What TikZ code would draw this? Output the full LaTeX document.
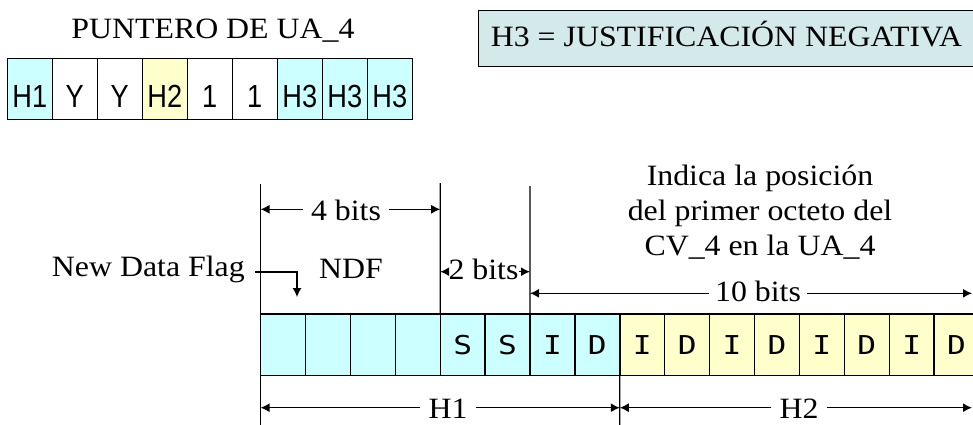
\documentclass[tikz,border=0pt]{standalone}
\usepackage{fontspec}
\setmainfont{Liberation Serif}[FakeStretch=1.08]
\newfontfamily\cellfont{Liberation Sans}[FakeStretch=0.85]
\newfontfamily\bitfont{DejaVu Sans Mono}[FakeStretch=1.2]
\usetikzlibrary{arrows.meta}
\definecolor{cyanc}{HTML}{CCFFFF}
\definecolor{yelc}{HTML}{FFFFCC}
\definecolor{hbox}{HTML}{D4E9EA}
\begin{document}
\begin{tikzpicture}[x=1pt,y=-1pt,
  txt/.style={font=\fontsize{29.5}{35}\selectfont, inner sep=0pt},
  gap/.style={txt, fill=white, inner xsep=8pt, inner ysep=0pt},
  tipa/.style={line width=1.3pt, -{Latex[length=9pt,width=9pt]}},
  vline/.style={line width=1.3pt},
  small/.style={draw, line width=1.4pt, minimum width=45pt, minimum height=61pt,
     inner sep=0pt, outer sep=0pt, font=\cellfont\fontsize{32}{32}\selectfont,
     text height=37pt, text depth=0pt},
  bcell/.style={draw, line width=1.4pt, minimum width=44.9pt, minimum height=61.3pt,
     inner sep=0pt, outer sep=0pt, font=\bitfont\fontsize{26}{26}\selectfont}
]
\useasboundingbox (0,0) rectangle (973,424);

% ---- PUNTERO DE UA_4
\node[txt, anchor=base] (ptitle) at (213,38.3) {PUNTERO DE UA\_4};
\foreach \t/\c [count=\i] in {H1/cyanc, Y/white, Y/white, H2/yelc, 1/white, 1/white, H3/cyanc, H3/cyanc, H3/cyanc}
  \node[small, fill=\c] (p\i) at ({7.3+45*(\i-0.5)},88.8) {\t};

% ---- H3 box
\node[draw, line width=1.4pt, fill=hbox, minimum width=503pt, minimum height=56.5pt,
      inner sep=0pt, anchor=north west] (h3box) at (477.5,9.5) {};
\node[txt, anchor=base] (h3txt) at (726.5,46.7) {H3 = JUSTIFICACIÓN NEGATIVA};

% ---- main bar
\foreach \t/\c [count=\i] in {/cyanc, /cyanc, /cyanc, /cyanc, S/cyanc, S/cyanc, I/cyanc, D/cyanc,
   I/yelc, D/yelc, I/yelc, D/yelc, I/yelc, D/yelc, I/yelc, D/yelc}
  \node[bcell, fill=\c] (b\i) at ({260.6+44.9*(\i-0.5)},344.7) {\t};

% ---- vertical guide lines
\coordinate (v0t) at (260.6,184);  \coordinate (v0b) at (260.6,430);
\coordinate (v4t) at (440.2,183);
\coordinate (v6t) at (530,186);
\coordinate (v8b) at (619.8,430);
\draw[vline] (v0t) -- (v0b);
\draw[vline] (v4t) -- (b5.north west);
\draw[vline] (v6t) -- (b7.north west);
\draw[vline] (b8.south east) -- (v8b);

% ---- 4 bits
\node[gap, anchor=base] (l4) at (346,220.7) {4 bits};
\coordinate (l4c) at (346,209.3);
\draw[tipa] (l4c -| l4.west) -- (l4c -| v0t);
\draw[tipa] (l4c -| l4.east) -- (l4c -| v4t);

% ---- New Data Flag / NDF
\node[txt, anchor=base east] (ndflag) at (245,276.7) {New Data Flag};
\node[txt, anchor=base] (ndf) at (351,278) {NDF};
\coordinate (ptrS) at (255,272);
\coordinate (ptrE) at (297,297);
\draw[tipa] (ptrS) -| (ptrE);

% ---- 2 bits
\node[gap, anchor=base, inner xsep=0.5pt] (l2) at (483.5,279.5) {2 bits};
\coordinate (l2c) at (483.5,271.7);
\draw[tipa] (l2c -| l2.west) -- (l2c -| v4t);
\draw[tipa] (l2c -| l2.east) -- (l2c -| v6t);

% ---- Indica ...
\node[txt, anchor=base] (ind1) at (760,185) {Indica la posición};
\node[txt, anchor=base] (ind2) at (760,220) {del primer octeto del};
\node[txt, anchor=base] (ind3) at (760,255) {CV\_4 en la UA\_4};

% ---- 10 bits
\coordinate (rEnd) at (972,293.3);
\node[gap, anchor=base, inner xsep=6pt] (l10) at (758,301.7) {10 bits};
\coordinate (l10c) at (758,293.3);
\draw[tipa] (l10c -| l10.west) -- (l10c -| v6t);
\draw[tipa] (l10c -| l10.east) -- (rEnd);

% ---- H1 / H2
\coordinate (hy) at (440,407.7);
\node[gap, anchor=base] (lh1) at (448,418.5) {H1};
\draw[tipa] (hy -| lh1.west) -- (hy -| v0t);
\draw[tipa] (hy -| lh1.east) -- (hy -| v8b);
\coordinate (h2End) at (972,407.7);
\node[gap, anchor=base] (lh2) at (799,418.5) {H2};
\draw[tipa] (hy -| lh2.west) -- (hy -| v8b);
\draw[tipa] (hy -| lh2.east) -- (h2End);
\end{tikzpicture}
\end{document}
